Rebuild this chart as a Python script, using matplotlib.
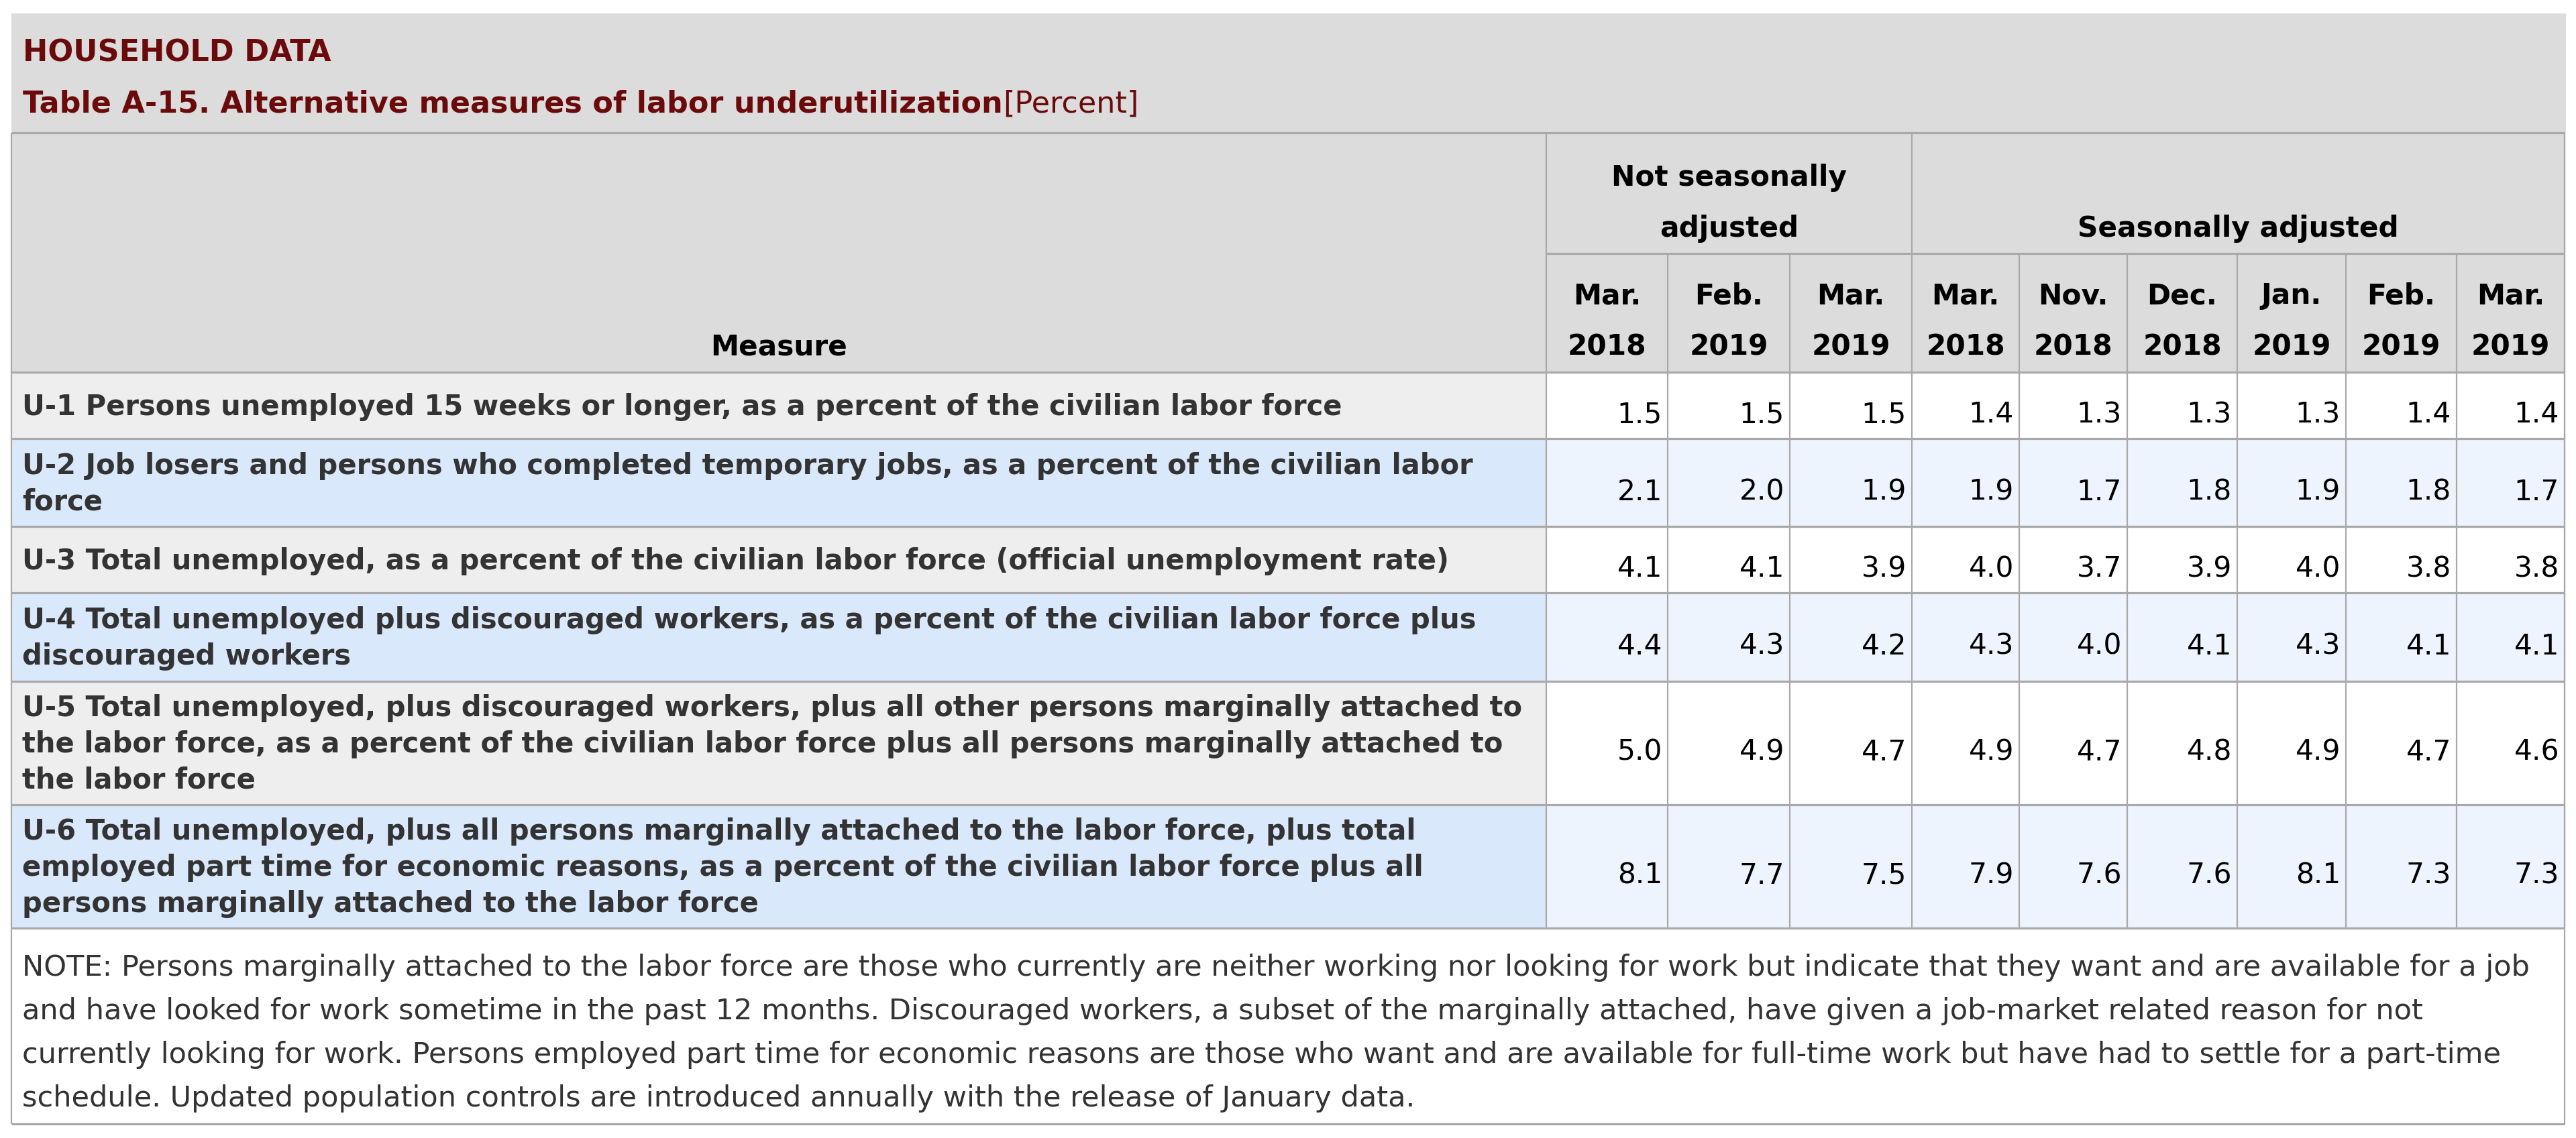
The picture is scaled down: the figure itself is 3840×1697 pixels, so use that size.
import matplotlib.pyplot as plt
from matplotlib.patches import Rectangle

# ---- table content ----
title_top = "HOUSEHOLD DATA"
title_main = "Table A-15. Alternative measures of labor underutilization"
title_unit = "[Percent]"

measures = [
    "U-1 Persons unemployed 15 weeks or longer, as a percent of the civilian labor force",
    "U-2 Job losers and persons who completed temporary jobs, as a percent of the civilian labor\nforce",
    "U-3 Total unemployed, as a percent of the civilian labor force (official unemployment rate)",
    "U-4 Total unemployed plus discouraged workers, as a percent of the civilian labor force plus\ndiscouraged workers",
    "U-5 Total unemployed, plus discouraged workers, plus all other persons marginally attached to\nthe labor force, as a percent of the civilian labor force plus all persons marginally attached to\nthe labor force",
    "U-6 Total unemployed, plus all persons marginally attached to the labor force, plus total\nemployed part time for economic reasons, as a percent of the civilian labor force plus all\npersons marginally attached to the labor force",
]

group_names = ["Not seasonally\nadjusted", "Seasonally adjusted"]
group_span = [3, 6]
col_months = ["Mar.", "Feb.", "Mar.", "Mar.", "Nov.", "Dec.", "Jan.", "Feb.", "Mar."]
col_years = ["2018", "2019", "2019", "2018", "2018", "2018", "2019", "2019", "2019"]

u1 = [1.5, 1.5, 1.5, 1.4, 1.3, 1.3, 1.3, 1.4, 1.4]
u2 = [2.1, 2.0, 1.9, 1.9, 1.7, 1.8, 1.9, 1.8, 1.7]
u3 = [4.1, 4.1, 3.9, 4.0, 3.7, 3.9, 4.0, 3.8, 3.8]
u4 = [4.4, 4.3, 4.2, 4.3, 4.0, 4.1, 4.3, 4.1, 4.1]
u5 = [5.0, 4.9, 4.7, 4.9, 4.7, 4.8, 4.9, 4.7, 4.6]
u6 = [8.1, 7.7, 7.5, 7.9, 7.6, 7.6, 8.1, 7.3, 7.3]
values = [u1, u2, u3, u4, u5, u6]

note_lines = [
    "NOTE: Persons marginally attached to the labor force are those who currently are neither working nor looking for work but indicate that they want and are available for a job",
    "and have looked for work sometime in the past 12 months. Discouraged workers, a subset of the marginally attached, have given a job-market related reason for not",
    "currently looking for work. Persons employed part time for economic reasons are those who want and are available for full-time work but have had to settle for a part-time",
    "schedule. Updated population controls are introduced annually with the release of January data.",
]

# ---- layout (pixels) ----
W, H = 3840, 1697
col_x = [17, 2305, 2486, 2668, 2850, 3010, 3171, 3335, 3497, 3662, 3823]
row_y = [198, 378, 555, 654, 785, 884, 1016, 1200, 1384, 1676]
x0, x1 = col_x[0], col_x[-1]

hdr_bg = "#dcdcdc"
row_lbl_bg = ["#eeeeee", "#dae8fc"]
row_num_bg = ["#ffffff", "#edf4fe"]
line_c = "#a9a9a9"
dark_red = "#6b0a0a"

fig = plt.figure(figsize=(W / 100, H / 100), dpi=100)
ax = fig.add_axes([0, 0, 1, 1])
ax.set_xlim(0, W)
ax.set_ylim(H, 0)
ax.axis("off")

# backgrounds
ax.add_patch(Rectangle((x0, 20), 3825 - x0, row_y[0] - 20, fc=hdr_bg, ec="none"))
ax.add_patch(Rectangle((x0, row_y[0]), x1 - x0, row_y[2] - row_y[0], fc=hdr_bg, ec="none"))
for i in range(len(measures)):
    top, bot = row_y[i + 2], row_y[i + 3]
    ax.add_patch(Rectangle((x0, top), col_x[1] - x0, bot - top, fc=row_lbl_bg[i % 2], ec="none"))
    ax.add_patch(Rectangle((col_x[1], top), x1 - col_x[1], bot - top, fc=row_num_bg[i % 2], ec="none"))

# grid lines
ax.hlines([row_y[0]] + row_y[2:], x0, x1, colors=line_c, lw=2.3)
ax.hlines(row_y[1], col_x[1], x1, colors=line_c, lw=2.3)
ax.vlines([x0, x1], row_y[0], row_y[-1], colors=line_c, lw=1.6)
group_edges = [col_x[1]]
for s in group_span:
    group_edges.append(col_x[col_x.index(group_edges[-1]) + s])
ax.vlines(group_edges, row_y[0], row_y[-2], colors=line_c, lw=1.6)
inner = [x for x in col_x[2:-1] if x not in group_edges]
ax.vlines(inner, row_y[1], row_y[-2], colors=line_c, lw=1.6)

# titles
ax.text(34, 92, title_top, fontsize=32, fontweight="bold", color=dark_red, va="baseline")
t_main = ax.text(34, 168, title_main, fontsize=32, fontweight="bold", color=dark_red, va="baseline")
ax.annotate(title_unit, xy=(1, 0), xycoords=t_main, fontsize=32, color=dark_red,
            ha="left", va="bottom")

# header text (bottom aligned)
hdr_kw = dict(fontsize=30.4, fontweight="bold", color="black", ha="center", va="baseline")


def header(x, bottom, text, step=76):
    lines = text.split("\n")
    for k, ln in enumerate(lines):
        ax.text(x, bottom - 25 - (len(lines) - 1 - k) * step, ln, **hdr_kw)


header((x0 + col_x[1]) / 2, row_y[2], "Measure")
for g, name in enumerate(group_names):
    header((group_edges[g] + group_edges[g + 1]) / 2, row_y[1], name)
for j in range(len(col_months)):
    header((col_x[j + 1] + col_x[j + 2]) / 2, row_y[2], col_months[j] + "\n" + col_years[j], step=77)

# body
for i, label in enumerate(measures):
    top, bot = row_y[i + 2], row_y[i + 3]
    mid = (top + bot) / 2
    lines = label.split("\n")
    for k, ln in enumerate(lines):
        ax.text(33, mid + 14 + (k - (len(lines) - 1) / 2) * 54, ln, fontsize=30,
                fontweight="bold", color="#333333", va="baseline", ha="left")
    for j, v in enumerate(values[i]):
        ax.text(col_x[j + 2] - 8, mid + 26, f"{v:.1f}", fontsize=30.5, color="black",
                ha="right", va="baseline")

# note
for k, ln in enumerate(note_lines):
    ax.text(33, 1455 + 65 * k, ln, fontsize=31.1, color="#333333", va="baseline", ha="left")

fig.savefig("out.png", dpi=100, facecolor="white")
